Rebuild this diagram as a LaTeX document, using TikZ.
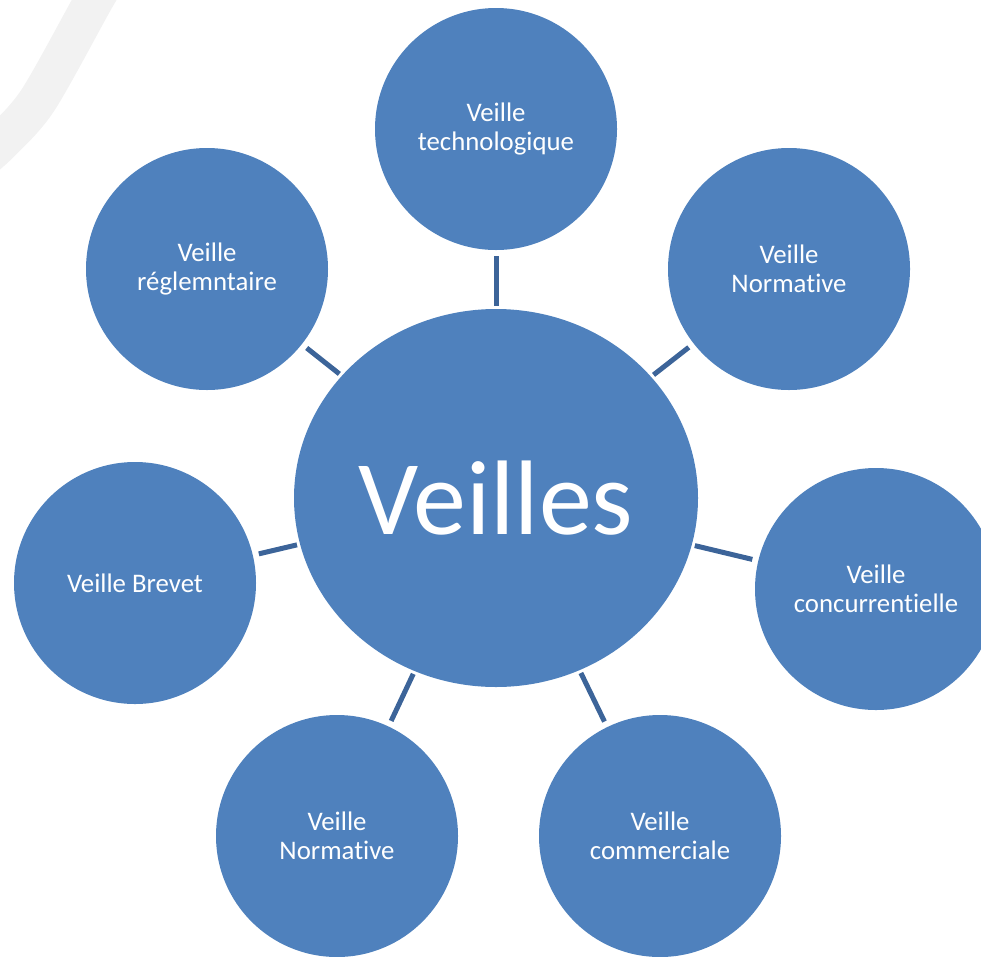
\documentclass[tikz,border=0pt]{standalone}
\usepackage{fontspec}
\setmainfont{Carlito}[Ligatures=NoCommon]
\usetikzlibrary{shapes.geometric}
\definecolor{cfill}{HTML}{4F81BD}
\definecolor{cline}{HTML}{3C6499}
\definecolor{bgarc}{HTML}{F2F2F2}
\tikzset{
  sat/.style={circle, fill=cfill, draw=none, minimum size=242pt, inner sep=0pt,
    text=white, align=center, font=\fontsize{26.8}{29}\selectfont},
  hub/.style={ellipse, fill=cfill, draw=none, minimum width=404pt, minimum height=378pt,
    inner sep=0pt, text=white, font=\fontsize{106}{116}\selectfont},
  link/.style={draw=cline, line width=5pt, shorten <=3pt, shorten >=6pt}
}
\begin{document}
\begin{tikzpicture}[x=1pt,y=-1pt]
\useasboundingbox (0,0) rectangle (981,956);
\draw[bgarc, line width=39pt] plot[smooth] coordinates {(112,-30) (94,0) (38,100) (0,143) (-25,165)};
\node[hub] (c) at (496,498) {Veilles};
\node[sat] (t) at (496,129) {Veille\\technologique};
\node[sat] (tl) at (207,269) {Veille\\réglemntaire};
\node[sat] (tr) at (789,269) {Veille\\Normative};
\node[sat] (l) at (135,583) {Veille Brevet};
\node[sat] (r) at (876,589) {Veille\\concurrentielle};
\node[sat] (bl) at (337,836) {Veille\\Normative};
\node[sat] (br) at (660,836) {Veille\\commerciale};
\foreach \s in {t,tl,tr,l,r,bl,br}{
  \draw[link] (c) -- (\s);
}
\end{tikzpicture}
\end{document}
